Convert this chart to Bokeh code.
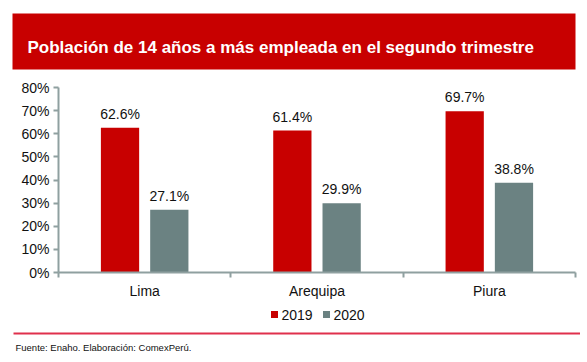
from bokeh.plotting import figure
from bokeh.models import Range1d, FixedTicker, LinearAxis, ColumnDataSource
from bokeh.layouts import column
from bokeh.core.properties import value
from bokeh.embed import file_html
from bokeh.resources import INLINE

categories = ["Lima", "Arequipa", "Piura"]
series_names = ["2019", "2020"]
values_2019 = [62.6, 61.4, 69.7]
values_2020 = [27.1, 29.9, 38.8]
y_ticks = [0, 10, 20, 30, 40, 50, 60, 70, 80]
title_text = "Población de 14 años a más empleada en el segundo trimestre"
source_text = "Fuente: Enaho. Elaboración: ComexPerú."

RED = "#C80000"
GREY = "#6B8282"
AXIS = "#8FA0A0"
LINE_RED = "#E0304C"
FONT = "Liberation Sans"
W = 580


def deco_fig(h):
    f = figure(width=W, height=h, output_backend="svg", toolbar_location=None,
               x_range=Range1d(0, W), y_range=Range1d(0, h),
               x_axis_location=None, y_axis_location=None,
               min_border=0, min_border_left=0, min_border_right=0,
               min_border_top=0, min_border_bottom=0, frame_align=False)
    f.outline_line_color = None
    f.xgrid.visible = False
    f.ygrid.visible = False
    return f


# ---- title strip ----
TH = 78
ft = deco_fig(TH)
ft.quad(left=[12], right=[575], top=[TH - 13], bottom=[TH - 69], fill_color=RED, line_color=None)
ft.text(x=[27], y=[TH - 47], text=[title_text], text_font=value(FONT), text_font_style="bold",
        text_font_size="17px", text_color="white", text_baseline="middle", text_align="left")

# ---- main chart ----
n = len(categories)
p = figure(width=W, height=224, output_backend="svg", toolbar_location=None,
           x_range=Range1d(0, n), y_range=Range1d(0, 80),
           x_axis_location=None, y_axis_location=None, frame_align=False,
           min_border_left=58, min_border_right=5, min_border_top=9, min_border_bottom=30)
p.outline_line_color = None
p.xgrid.visible = False
p.ygrid.visible = False

yax = LinearAxis(ticker=FixedTicker(ticks=y_ticks),
                 major_label_overrides={t: f"{t}%" for t in y_ticks})
yax.axis_line_color = AXIS
yax.axis_line_width = 2
yax.major_tick_line_color = AXIS
yax.major_tick_line_width = 2
yax.major_tick_out = 5
yax.major_tick_in = 0
yax.minor_tick_line_color = None
yax.major_label_text_font = FONT
yax.major_label_text_font_size = "14px"
yax.major_label_text_color = "#111111"
yax.major_label_standoff = 4
p.add_layout(yax, "left")

xax = LinearAxis(ticker=FixedTicker(ticks=list(range(n + 1))),
                 major_label_overrides={i: "" for i in range(n + 1)})
xax.axis_line_color = AXIS
xax.axis_line_width = 2
xax.major_tick_line_color = AXIS
xax.major_tick_line_width = 2
xax.major_tick_out = 5
xax.major_tick_in = 0
xax.minor_tick_line_color = None
xax.major_label_standoff = 0
xax.major_label_text_font_size = "1px"
p.add_layout(xax, "below")

centers = [i + 0.5 for i in range(n)]
cax = LinearAxis(ticker=FixedTicker(ticks=centers),
                 major_label_overrides={c: name for c, name in zip(centers, categories)})
cax.axis_line_color = None
cax.major_tick_line_color = None
cax.minor_tick_line_color = None
cax.major_tick_out = 0
cax.major_tick_in = 0
cax.major_label_text_font = FONT
cax.major_label_text_font_size = "14px"
cax.major_label_text_color = "#111111"
cax.major_label_standoff = 5
p.add_layout(cax, "below")

bw = 0.222
off = 0.143
src19 = ColumnDataSource(dict(x=[c - off for c in centers], top=values_2019,
                              lab=[f"{v:.1f}%" for v in values_2019]))
src20 = ColumnDataSource(dict(x=[c + off for c in centers], top=values_2020,
                              lab=[f"{v:.1f}%" for v in values_2020]))
p.vbar(x="x", top="top", width=bw, bottom=0, source=src19, fill_color=RED, line_color=None)
p.vbar(x="x", top="top", width=bw, bottom=0, source=src20, fill_color=GREY, line_color=None)
for s in (src19, src20):
    p.text(x="x", y="top", text="lab", source=s, text_align="center", text_baseline="bottom",
           y_offset=-6, text_font=value(FONT), text_font_size="14px", text_color="#111111")

# ---- legend + footer strip ----
BH = 60
fb = deco_fig(BH)
leg = ColumnDataSource(dict(sx=[274, 326], tx=[281, 333], y=[BH - 12, BH - 12],
                            color=[RED, GREY], name=series_names))
fb.rect(x="sx", y="y", width=7, height=7, fill_color="color", line_color=None, source=leg)
fb.text(x="tx", y="y", text="name", source=leg, text_font=value(FONT), text_font_size="14px",
        text_color="#111111", text_baseline="middle", text_align="left")
fb.quad(left=[13], right=[580], top=[BH - 30], bottom=[BH - 32], fill_color=LINE_RED, line_color=None)
fb.text(x=[15], y=[BH - 45], text=[source_text], text_font=value(FONT), text_font_size="9.5px",
        text_color="#111111", text_baseline="middle", text_align="left")

layout = column(ft, p, fb, spacing=0)
open("out.html", "w").write(file_html(layout, INLINE))
